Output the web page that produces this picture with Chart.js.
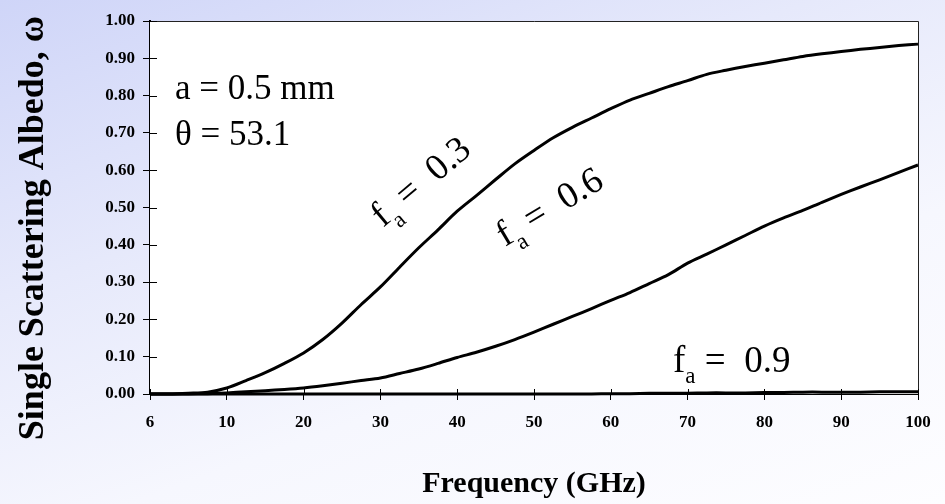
<!DOCTYPE html>
<html>
<head>
<meta charset="utf-8">
<script src="https://cdn.jsdelivr.net/npm/chart.js@4.4.1/dist/chart.umd.min.js"></script>
<style>
    html, body {
        margin: 0;
        padding: 0;
        width: 945px;
        height: 504px;
        overflow: hidden;
        background: linear-gradient(160deg, #cfd5f8 0%, #e6e9fb 35%, #f6f7fe 65%, #fdfdff 100%);
    }
    #wrap {
        position: relative;
        width: 945px;
        height: 504px;
    }
</style>
</head>
<body>
<div id="wrap"><canvas id="albedoChart" width="945" height="504"></canvas></div>
<script>
// 頻率 (GHz) - 類別軸
const FREQS = [6, 7, 8, 9, 10, 12.5, 15, 17.5, 20, 22.5, 25, 27.5, 30, 32.5, 35, 37.5, 40,
    42.5, 45, 47.5, 50, 52.5, 55, 57.5, 60, 62.5, 65, 67.5, 70, 72.5, 75, 77.5, 80,
    82.5, 85, 87.5, 90, 92.5, 95, 97.5, 100];

// 顯示的刻度標籤
const TICK_LABELS = ['6', '10', '20', '30', '40', '50', '60', '70', '80', '90', '100'];

// 單次散射反照率 f_a = 0.3
const ALBEDO_03 = [0.000, 0.000, 0.002, 0.005, 0.016, 0.036, 0.057, 0.082, 0.110, 0.146, 0.190,
    0.240, 0.287, 0.340, 0.392, 0.440, 0.490, 0.532, 0.575, 0.617, 0.653, 0.687, 0.715,
    0.740, 0.765, 0.788, 0.806, 0.824, 0.840, 0.857, 0.868, 0.878, 0.887, 0.896, 0.905,
    0.912, 0.918, 0.924, 0.929, 0.934, 0.938];

// f_a = 0.6
const ALBEDO_06 = [0.000, 0.000, 0.000, 0.001, 0.003, 0.006, 0.009, 0.012, 0.016, 0.022, 0.029,
    0.036, 0.043, 0.055, 0.067, 0.082, 0.098, 0.112, 0.128, 0.146, 0.166, 0.187, 0.208,
    0.229, 0.251, 0.272, 0.296, 0.320, 0.351, 0.375, 0.400, 0.425, 0.450, 0.472, 0.492,
    0.514, 0.535, 0.555, 0.574, 0.594, 0.614];

// f_a = 0.9
const ALBEDO_09 = [0, 0, 0, 0, 0, 0, 0, 0, 0, 0, 0, 0, 0, 0, 0, 0, 0, 0, 0, 0, 0, 0, 0, 0,
    0.001, 0.001, 0.002, 0.002, 0.002, 0.003, 0.003, 0.003, 0.004, 0.004, 0.005, 0.005,
    0.005, 0.005, 0.006, 0.006, 0.006];

const SERIF = '"Liberation Serif", "Times New Roman", serif';

// 畫 f_a = 值 標註
function drawFa(ctx, x, y, angle, value, size) {
    ctx.save();
    ctx.translate(x, y);
    ctx.rotate(angle * Math.PI / 180);
    ctx.fillStyle = '#000';
    ctx.textBaseline = 'alphabetic';
    ctx.textAlign = 'left';
    ctx.font = size + 'px ' + SERIF;
    ctx.fillText('f', 0, 0);
    let cx = ctx.measureText('f').width;
    ctx.font = Math.round(size * 0.62) + 'px ' + SERIF;
    ctx.fillText('a', cx, size * 0.3);
    cx += ctx.measureText('a').width;
    ctx.font = size + 'px ' + SERIF;
    ctx.fillText(' =  ' + value, cx, 0);
    ctx.restore();
}

// 繪圖區外框、內刻度與標註
const framePlugin = {
    id: 'frame',
    beforeDatasetsDraw(chart) {
        const { ctx, chartArea: a } = chart;
        ctx.save();
        ctx.fillStyle = '#ffffff';
        ctx.fillRect(a.left, a.top, a.right - a.left, a.bottom - a.top);
        ctx.restore();
    },
    afterDraw(chart) {
        const { ctx, chartArea: a, scales } = chart;
        ctx.save();
        // 外框
        ctx.strokeStyle = '#222';
        ctx.lineWidth = 1;
        ctx.beginPath();
        ctx.moveTo(a.left, a.top + 0.5);
        ctx.lineTo(a.right + 0.5, a.top + 0.5);
        ctx.lineTo(a.right + 0.5, a.bottom);
        ctx.stroke();

        // 內刻度
        ctx.strokeStyle = '#000';
        ctx.lineWidth = 1;
        ctx.beginPath();
        scales.x.ticks.forEach((t, i) => {
            const px = Math.round(scales.x.getPixelForTick(i)) + 0.5;
            ctx.moveTo(px, a.bottom);
            ctx.lineTo(px, a.bottom - 5);
        });
        scales.y.ticks.forEach((t, i) => {
            const py = Math.round(scales.y.getPixelForTick(i)) + 0.5;
            ctx.moveTo(a.left, py);
            ctx.lineTo(a.left + 7, py);
        });
        ctx.stroke();

        // Y 軸標題
        ctx.fillStyle = '#000';
        ctx.font = 'bold 36px ' + SERIF;
        ctx.textAlign = 'center';
        ctx.textBaseline = 'alphabetic';
        ctx.translate(43, 228);
        ctx.rotate(-Math.PI / 2);
        ctx.fillText('Single Scattering Albedo, ω', 0, 0);
        ctx.restore();

        // 參數標註
        ctx.save();
        ctx.fillStyle = '#000';
        ctx.font = '35px ' + SERIF;
        ctx.textAlign = 'left';
        ctx.textBaseline = 'alphabetic';
        ctx.fillText('a = 0.5 mm', 175, 99);
        ctx.fillText('θ = 53.1', 175, 145);
        ctx.restore();

        drawFa(ctx, 383, 228, -40, '0.3', 37);
        drawFa(ctx, 505, 247, -31, '0.6', 37);
        drawFa(ctx, 673, 372, 0, '0.9', 37);
    }
};

const ctx = document.getElementById('albedoChart').getContext('2d');

const lineStyle = {
    borderColor: '#000',
    borderWidth: 3,
    pointRadius: 0,
    tension: 0.3,
    fill: false,
    clip: 4
};

new Chart(ctx, {
    type: 'line',
    data: {
        labels: FREQS.map(String),
        datasets: [
            Object.assign({ label: 'fa = 0.3', data: ALBEDO_03 }, lineStyle),
            Object.assign({ label: 'fa = 0.6', data: ALBEDO_06 }, lineStyle),
            Object.assign({ label: 'fa = 0.9', data: ALBEDO_09 }, lineStyle)
        ]
    },
    options: {
        responsive: false,
        animation: false,
        layout: {
            padding: { top: 21, right: 27, left: 0, bottom: 0 }
        },
        plugins: {
            legend: { display: false },
            tooltip: { enabled: false }
        },
        scales: {
            x: {
                type: 'category',
                offset: false,
                afterFit: s => { s.height = 110; },
                afterBuildTicks: s => {
                    s.ticks = s.ticks.filter(t => TICK_LABELS.includes(String(FREQS[t.value])));
                },
                grid: {
                    drawOnChartArea: false,
                    drawTicks: true,
                    tickLength: 6,
                    tickColor: '#000',
                    offset: false
                },
                border: { color: '#000', width: 2 },
                ticks: {
                    autoSkip: false,
                    maxRotation: 0,
                    padding: 12,
                    color: '#000',
                    font: { family: SERIF, size: 17, weight: 'bold' }
                },
                title: {
                    display: true,
                    text: 'Frequency (GHz)',
                    color: '#000',
                    font: { family: SERIF, size: 30, weight: 'bold' },
                    padding: { top: 0, bottom: 2 }
                }
            },
            y: {
                min: 0,
                max: 1,
                afterFit: s => { s.width = 150; },
                grid: {
                    drawOnChartArea: false,
                    drawTicks: true,
                    tickLength: 7,
                    tickColor: '#000'
                },
                border: { color: '#000', width: 2 },
                ticks: {
                    stepSize: 0.1,
                    padding: 8,
                    color: '#000',
                    font: { family: SERIF, size: 17, weight: 'bold' },
                    callback: v => v.toFixed(2)
                }
            }
        }
    },
    plugins: [framePlugin]
});
</script>
</body>
</html>
